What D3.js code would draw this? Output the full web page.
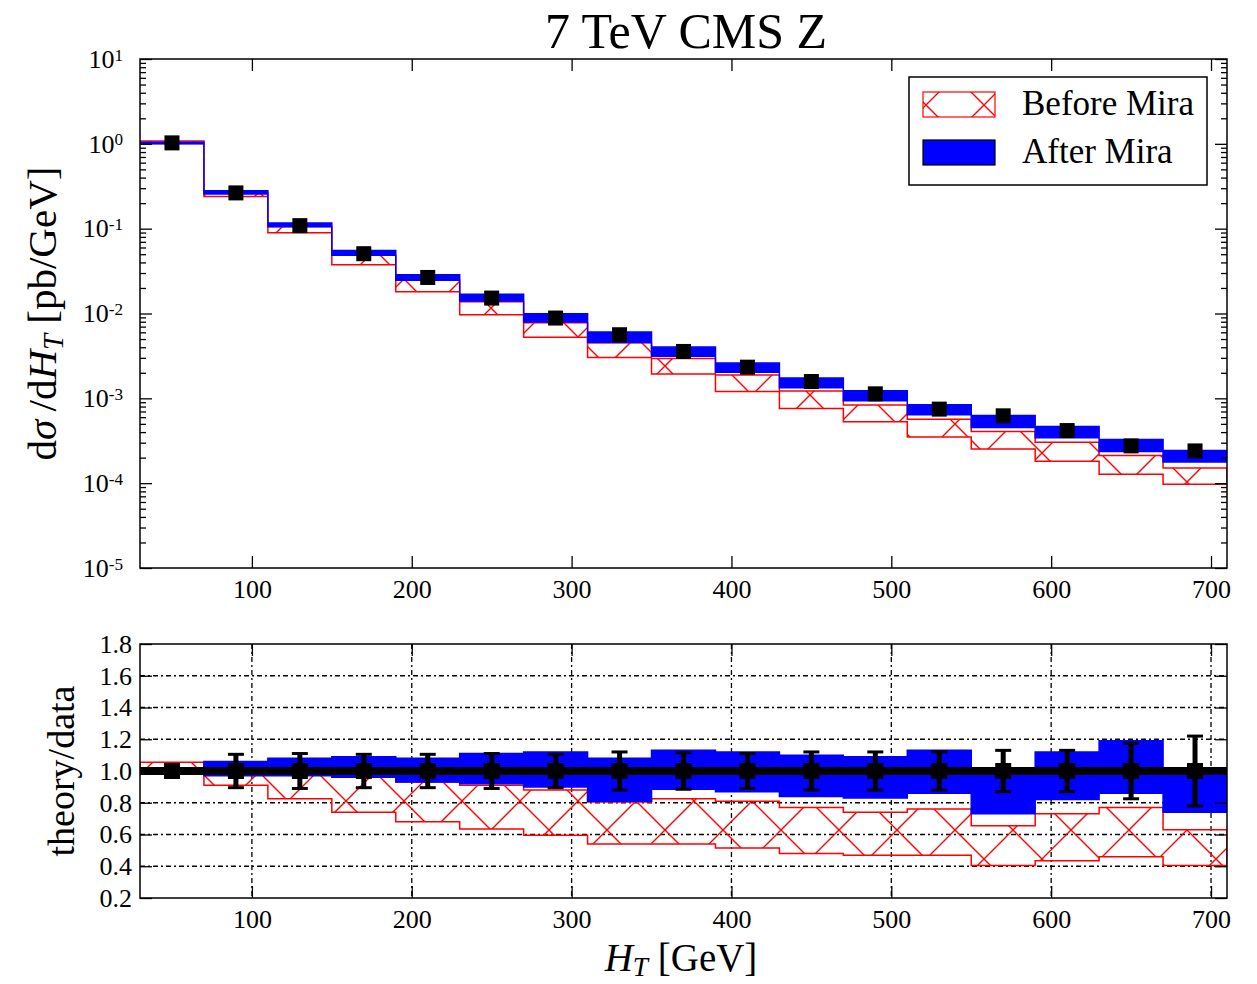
<!DOCTYPE html>
<html>
<head>
<meta charset="utf-8">
<script src="https://cdn.jsdelivr.net/npm/d3@7"></script>
<style>
body { margin: 0; background: #fff; }
svg { display: block; }
text { font-family: "Liberation Serif", "DejaVu Serif", serif; fill: #000; }
</style>
</head>
<body>
<svg id="chart" width="1257" height="984"></svg>
<script>
// bins in HT [GeV]
const binEdges = [30, 70, 110, 150, 190, 230, 270, 310, 350, 390, 430, 470, 510, 550, 590, 630, 670, 710];
const binCenters = [50, 90, 130, 170, 210, 250, 290, 330, 370, 410, 450, 490, 530, 570, 610, 650, 690];

// top panel: d sigma / d HT [pb/GeV]
const dataXs = [1.026, 0.264, 0.1085, 0.0507, 0.0266, 0.0152, 0.00884, 0.00562, 0.00357, 0.00233, 0.00158, 0.00113, 0.000746, 0.000622, 0.000417, 0.000275, 0.00024];
const beforeLo = [1.011, 0.240, 0.0895, 0.0375, 0.0181, 0.00965, 0.00526, 0.00303, 0.00193, 0.00120, 0.000758, 0.000531, 0.000351, 0.000252, 0.000181, 0.000127, 0.0000972];
const beforeHi = [1.082, 0.261, 0.106, 0.0487, 0.0247, 0.0138, 0.00778, 0.00452, 0.00295, 0.00189, 0.00122, 0.000836, 0.000567, 0.000407, 0.000304, 0.000212, 0.000151];
const afterLo = [1.005, 0.256, 0.105, 0.0487, 0.0247, 0.0140, 0.00796, 0.00455, 0.00314, 0.00203, 0.00133, 0.000938, 0.000642, 0.000454, 0.000342, 0.000237, 0.000178];
const afterHi = [1.047, 0.280, 0.117, 0.0553, 0.0287, 0.0169, 0.00990, 0.00607, 0.00403, 0.00261, 0.00174, 0.00123, 0.000843, 0.000628, 0.000467, 0.000327, 0.000242];

// bottom panel: theory/data
const beforeLoR = [0.985, 0.91, 0.825, 0.74, 0.68, 0.635, 0.595, 0.54, 0.54, 0.515, 0.48, 0.47, 0.47, 0.405, 0.435, 0.46, 0.405];
const beforeHiR = [1.055, 0.99, 0.98, 0.96, 0.93, 0.91, 0.88, 0.805, 0.825, 0.81, 0.77, 0.74, 0.76, 0.655, 0.73, 0.77, 0.63];
const afterLoR = [0.98, 0.97, 0.97, 0.96, 0.93, 0.92, 0.90, 0.81, 0.885, 0.87, 0.84, 0.83, 0.86, 0.73, 0.82, 0.86, 0.74];
const afterHiR = [1.02, 1.06, 1.08, 1.09, 1.08, 1.11, 1.12, 1.08, 1.13, 1.12, 1.10, 1.09, 1.13, 1.01, 1.12, 1.19, 1.01];
const dataErrR = [0.03, 0.105, 0.11, 0.105, 0.105, 0.11, 0.105, 0.12, 0.115, 0.11, 0.12, 0.12, 0.12, 0.13, 0.13, 0.175, 0.22];

const xTicks = [100, 200, 300, 400, 500, 600, 700];
const logTicks = [1e1, 1e0, 1e-1, 1e-2, 1e-3, 1e-4, 1e-5];
const ratioTicks = [0.2, 0.4, 0.6, 0.8, 1.0, 1.2, 1.4, 1.6, 1.8];
const gridTicks = [0.4, 0.6, 0.8, 1.0, 1.2, 1.4, 1.6];

const RED = '#ff0000', BLUE = '#0000ff';
const svg = d3.select('#chart');

const left = 140, right = 1227;
const top1 = 59, bot1 = 568;
const top2 = 644, bot2 = 898;

const x = d3.scaleLinear().domain([30, 710]).range([left, right]);
const yTop = d3.scaleLog().domain([1e-5, 1e1]).range([bot1, top1]);
const yRat = d3.scaleLinear().domain([0.2, 1.8]).range([bot2, top2]);

// hatch pattern, anchored in page space
const defs = svg.append('defs');
const hatch = defs.append('pattern')
    .attr('id', 'hatch')
    .attr('patternUnits', 'userSpaceOnUse')
    .attr('x', 433).attr('y', 830)
    .attr('width', 58).attr('height', 58);
hatch.append('path')
    .attr('d', 'M0,0L58,58M58,0L0,58M-10,48L10,68M48,-10L68,10M-10,10L10,-10M48,68L68,48')
    .attr('stroke', RED)
    .attr('stroke-width', 1.4)
    .attr('fill', 'none');

['clipTop', 'clipBot'].forEach((id, i) => {
    defs.append('clipPath').attr('id', id)
        .append('rect')
        .attr('x', left).attr('width', right - left)
        .attr('y', i ? top2 : top1).attr('height', i ? bot2 - top2 : bot1 - top1);
});

// step band points: both edges of every bin
function stepPoints(lo, hi) {
    const pts = [];
    lo.forEach((v, i) => {
        pts.push({ x: binEdges[i], lo: v, hi: hi[i] });
        pts.push({ x: binEdges[i + 1], lo: v, hi: hi[i] });
    });
    return pts;
}

function band(g, y, lo, hi, fill, stroke, sw) {
    const area = d3.area()
        .x(d => x(d.x))
        .y0(d => y(d.lo))
        .y1(d => y(d.hi));
    g.append('path')
        .datum(stepPoints(lo, hi))
        .attr('d', area)
        .attr('fill', fill)
        .attr('stroke', stroke)
        .attr('stroke-width', sw)
        .attr('stroke-linejoin', 'miter');
}

// ---------- top panel ----------
const gTop = svg.append('g').attr('clip-path', 'url(#clipTop)');
band(gTop, yTop, beforeLo, beforeHi, 'url(#hatch)', RED, 1.5);
band(gTop, yTop, afterLo, afterHi, BLUE, BLUE, 1.5);
gTop.selectAll('rect.pt')
    .data(binCenters)
    .join('rect')
    .attr('class', 'pt')
    .attr('x', (d) => x(d) - 7.5)
    .attr('y', (d, i) => yTop(dataXs[i]) - 7.5)
    .attr('width', 15).attr('height', 15)
    .attr('fill', '#000');

// ---------- bottom panel ----------
const gBot = svg.append('g');
// grid
gBot.append('g')
    .selectAll('line.hg')
    .data(gridTicks)
    .join('line')
    .attr('x1', left).attr('x2', right)
    .attr('y1', d => yRat(d)).attr('y2', d => yRat(d))
    .attr('stroke', '#000').attr('stroke-width', 1.3)
    .attr('stroke-dasharray', '5,3,2,3');
gBot.append('g')
    .selectAll('line.vg')
    .data(xTicks)
    .join('line')
    .attr('x1', d => x(d)).attr('x2', d => x(d))
    .attr('y1', top2).attr('y2', bot2)
    .attr('stroke', '#000').attr('stroke-width', 1.3)
    .attr('stroke-dasharray', '5,3,2,3');

const gBotC = gBot.append('g').attr('clip-path', 'url(#clipBot)');
band(gBotC, yRat, beforeLoR, beforeHiR, 'url(#hatch)', RED, 1.5);
band(gBotC, yRat, afterLoR, afterHiR, BLUE, BLUE, 1.5);

// data/data reference line
gBotC.append('line')
    .attr('x1', x(binEdges[0])).attr('x2', x(binEdges[binEdges.length - 1]))
    .attr('y1', yRat(1)).attr('y2', yRat(1))
    .attr('stroke', '#000').attr('stroke-width', 8);

// error bars
const eb = gBotC.append('g');
binCenters.forEach((c, i) => {
    const cx = x(c);
    const y0 = yRat(1 - dataErrR[i]), y1 = yRat(1 + dataErrR[i]);
    eb.append('line').attr('x1', cx).attr('x2', cx).attr('y1', y0).attr('y2', y1)
        .attr('stroke', '#000').attr('stroke-width', 5);
    [y0, y1].forEach(yy => {
        eb.append('line').attr('x1', cx - 8).attr('x2', cx + 8).attr('y1', yy).attr('y2', yy)
            .attr('stroke', '#000').attr('stroke-width', 3);
    });
});
gBotC.selectAll('rect.pt')
    .data(binCenters)
    .join('rect')
    .attr('class', 'pt')
    .attr('x', d => x(d) - 8)
    .attr('y', yRat(1) - 8)
    .attr('width', 16).attr('height', 16)
    .attr('fill', '#000');

// ---------- axes ----------
function styleAxis(g) {
    g.select('.domain').remove();
    g.selectAll('line').attr('stroke', '#000').attr('stroke-width', 1.3);
    g.selectAll('text').attr('font-family', '"Liberation Serif", serif').attr('fill', '#000');
}

// top panel x
svg.append('g').attr('transform', `translate(0,${bot1})`)
    .call(d3.axisBottom(x).tickValues(xTicks).tickSizeInner(-12).tickSizeOuter(0).tickPadding(12))
    .attr('font-size', 26).call(styleAxis);
svg.append('g').attr('transform', `translate(0,${top1})`)
    .call(d3.axisTop(x).tickValues(xTicks).tickSizeInner(-12).tickSizeOuter(0).tickFormat(''))
    .call(styleAxis);

// top panel y, log
const minorLog = [];
for (let e = -5; e < 1; e++) for (let m = 2; m <= 9; m++) minorLog.push(m * Math.pow(10, e));

const yAxL = svg.append('g').attr('transform', `translate(${left},0)`)
    .call(d3.axisLeft(yTop).tickValues(logTicks).tickSizeInner(-12).tickSizeOuter(0).tickPadding(17))
    .attr('font-size', 26).call(styleAxis);
yAxL.selectAll('.tick text').each(function (d) {
    const t = d3.select(this);
    const ex = Math.round(Math.log10(d));
    t.text('');
    t.append('tspan').text('10');
    t.append('tspan').attr('dy', '-0.42em').attr('font-size', '0.66em').text(ex);
});
svg.append('g').attr('transform', `translate(${left},0)`)
    .call(d3.axisLeft(yTop).tickValues(minorLog).tickSizeInner(-6).tickSizeOuter(0).tickFormat(''))
    .call(styleAxis);
svg.append('g').attr('transform', `translate(${right},0)`)
    .call(d3.axisRight(yTop).tickValues(logTicks).tickSizeInner(-12).tickSizeOuter(0).tickFormat(''))
    .call(styleAxis);
svg.append('g').attr('transform', `translate(${right},0)`)
    .call(d3.axisRight(yTop).tickValues(minorLog).tickSizeInner(-6).tickSizeOuter(0).tickFormat(''))
    .call(styleAxis);

// bottom panel x
svg.append('g').attr('transform', `translate(0,${bot2})`)
    .call(d3.axisBottom(x).tickValues(xTicks).tickSizeInner(-12).tickSizeOuter(0).tickPadding(12))
    .attr('font-size', 26).call(styleAxis);
svg.append('g').attr('transform', `translate(0,${top2})`)
    .call(d3.axisTop(x).tickValues(xTicks).tickSizeInner(-12).tickSizeOuter(0).tickFormat(''))
    .call(styleAxis);

// bottom panel y
svg.append('g').attr('transform', `translate(${left},0)`)
    .call(d3.axisLeft(yRat).tickValues(ratioTicks).tickSizeInner(-12).tickSizeOuter(0).tickPadding(8).tickFormat(d3.format('.1f')))
    .attr('font-size', 26).call(styleAxis);
svg.append('g').attr('transform', `translate(${right},0)`)
    .call(d3.axisRight(yRat).tickValues(ratioTicks).tickSizeInner(-12).tickSizeOuter(0).tickFormat(''))
    .call(styleAxis);

// frames
[[top1, bot1], [top2, bot2]].forEach(([t, b]) => {
    svg.append('rect')
        .attr('x', left).attr('y', t)
        .attr('width', right - left).attr('height', b - t)
        .attr('fill', 'none').attr('stroke', '#000').attr('stroke-width', 1.5);
});

// ---------- texts ----------
svg.append('text')
    .attr('x', 686).attr('y', 48)
    .attr('text-anchor', 'middle')
    .attr('font-size', 50)
    .text('7 TeV CMS Z');

const yl = svg.append('text')
    .attr('transform', `translate(56,${(top1 + bot1) / 2}) rotate(-90)`)
    .attr('text-anchor', 'middle')
    .attr('font-size', 41);
yl.append('tspan').text('d');
yl.append('tspan').attr('font-style', 'italic').text('σ');
yl.append('tspan').text('\u2009/d');
yl.append('tspan').attr('font-style', 'italic').text('H');
yl.append('tspan').attr('font-style', 'italic').attr('font-size', '0.7em').attr('dy', '0.25em').text('T');
yl.append('tspan').attr('dy', '-0.18em').text(' [pb/GeV]');

svg.append('text')
    .attr('transform', `translate(74,${(top2 + bot2) / 2}) rotate(-90)`)
    .attr('text-anchor', 'middle')
    .attr('font-size', 38)
    .text('theory/data');

const xl = svg.append('text')
    .attr('x', 681).attr('y', 971)
    .attr('text-anchor', 'middle')
    .attr('font-size', 39);
xl.append('tspan').attr('font-style', 'italic').text('H');
xl.append('tspan').attr('font-style', 'italic').attr('font-size', '0.7em').attr('dy', '0.2em').text('T');
xl.append('tspan').attr('dy', '-0.14em').text(' [GeV]');

// ---------- legend ----------
const lg = svg.append('g');
lg.append('rect')
    .attr('x', 909).attr('y', 77).attr('width', 298).attr('height', 108)
    .attr('fill', '#fff').attr('stroke', '#000').attr('stroke-width', 1.5);
const legendItems = [
    { label: 'Before Mira', fill: 'url(#hatch)', stroke: RED },
    { label: 'After Mira', fill: BLUE, stroke: '#000' }
];
legendItems.forEach((it, i) => {
    const yy = 92 + i * 48;
    lg.append('rect')
        .attr('x', 923).attr('y', yy).attr('width', 72).attr('height', 25)
        .attr('fill', it.fill).attr('stroke', it.stroke).attr('stroke-width', 1.2);
    lg.append('text')
        .attr('x', 1022).attr('y', yy + 23)
        .attr('font-size', 35)
        .text(it.label);
});
</script>
</body>
</html>
